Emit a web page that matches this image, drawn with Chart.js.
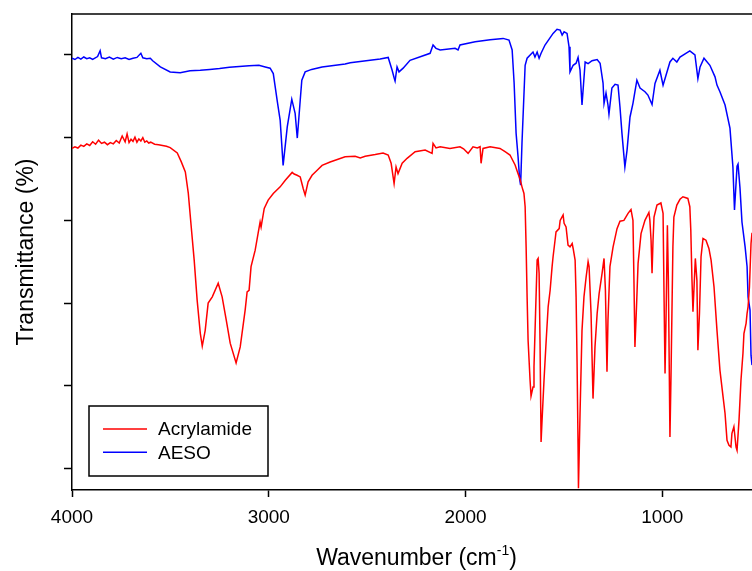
<!DOCTYPE html>
<html>
<head>
<meta charset="utf-8">
<script src="https://cdn.jsdelivr.net/npm/chart.js@4.4.1/dist/chart.umd.min.js"></script>
<style>
  html, body { margin: 0; padding: 0; background: #ffffff; }
  #wrap { width: 752px; height: 571px; position: relative; }
</style>
</head>
<body>
<div id="wrap"><canvas id="ftir"></canvas></div>
<script>
// FTIR spectra, wavenumber (cm-1) against transmittance (arbitrary offset, %)
var xTicks = [4000, 3000, 2000, 1000];
var yTicks = [0, 20, 40, 60, 80, 100];
var seriesNames = ["Acrylamide", "AESO"];
var seriesColors = ["#ff0000", "#0000ff"];

var acrylamideWn = [
  4000, 3985, 3970, 3955, 3940, 3925, 3910, 3895, 3880, 3865, 3850, 3835, 3820, 3805, 3790,
  3775, 3760, 3745, 3730, 3720, 3710, 3700, 3690, 3680, 3670, 3660, 3650, 3640, 3630, 3620,
  3610, 3600, 3580, 3560, 3540, 3520, 3501, 3465, 3445, 3424, 3409, 3394, 3379, 3364, 3348,
  3338, 3323, 3308, 3287, 3257, 3237, 3216, 3196, 3166, 3145, 3120, 3110, 3100, 3090, 3069,
  3054, 3044, 3039, 3023, 3003, 2977, 2942, 2916, 2881, 2871, 2856, 2840, 2825, 2815, 2800,
  2780, 2754, 2729, 2688, 2612, 2561, 2535, 2510, 2459, 2419, 2393, 2378, 2363, 2353, 2343,
  2322, 2297, 2256, 2205, 2170, 2165, 2150, 2129, 2079, 2028, 2010, 1987, 1962, 1940, 1926,
  1921, 1911, 1875, 1825, 1799, 1774, 1748, 1733, 1723, 1713, 1703, 1697, 1692, 1687, 1682,
  1672, 1667, 1657, 1652, 1644, 1636, 1631, 1626, 1621, 1616, 1611, 1601, 1590, 1580, 1570,
  1560, 1555, 1545, 1540, 1524, 1519, 1504, 1499, 1489, 1479, 1469, 1458, 1453, 1443, 1438,
  1433, 1428, 1426, 1418, 1408, 1398, 1387, 1377, 1372, 1362, 1352, 1342, 1331, 1321, 1306,
  1296, 1289, 1281, 1276, 1266, 1250, 1230, 1215, 1195, 1174, 1159, 1149, 1144, 1139, 1131,
  1123, 1108, 1088, 1068, 1063, 1057, 1052, 1047, 1042, 1027, 1007, 996, 991, 986, 981,
  974, 969, 961, 956, 951, 946, 941, 926, 910, 895, 870, 860, 855, 849, 844,
  837, 832, 824, 819, 811, 803, 793, 778, 763, 752, 737, 722, 707, 691, 681,
  671, 661, 651, 646, 636, 625, 620, 610, 600, 590, 585, 574, 569, 564, 557,
  549, 544
];
var acrylamideT = [
  77.4, 77.8, 77.5, 78.2, 77.9, 78.5, 78.1, 79.0, 78.4, 79.4, 78.6, 78.9, 78.3, 78.8, 78.5,
  79.3, 78.7, 80.4, 79.0, 80.9, 78.8, 79.6, 79.1, 80.1, 78.9, 79.7, 79.2, 80.0, 78.9, 79.2,
  78.7, 78.9, 78.4, 78.3, 78.1, 77.9, 77.6, 76.3, 74.2, 71.7, 66.6, 58.4, 50.4, 40.7, 32.7,
  29.6, 33.4, 40.0, 41.5, 44.8, 41.5, 35.9, 30.3, 25.5, 29.4, 38.3, 42.7, 43.1, 48.8, 52.8,
  56.9, 59.6, 58.4, 62.9, 64.9, 66.5, 68.1, 69.7, 71.6, 71.2, 70.9, 70.5, 67.7, 66.1, 69.3,
  70.9, 72.1, 73.3, 74.1, 75.4, 75.5, 75.1, 75.5, 75.9, 76.3, 75.8, 73.8, 68.9, 72.9, 71.3,
  73.8, 75.0, 76.6, 77.0, 76.2, 78.6, 77.5, 77.8, 77.4, 77.8, 77.3, 76.2, 77.8, 77.5, 77.8,
  73.8, 77.4, 77.8, 77.4, 76.6, 75.8, 73.4, 71.3, 70.0, 68.1, 66.5, 63.3, 53.6, 41.5, 31.0,
  21.4, 17.5, 19.7, 24.6, 37.6, 50.4, 50.8, 47.2, 29.4, 6.4, 11.7, 21.4, 31.0, 39.1, 43.1,
  48.8, 51.2, 55.2, 57.2, 58.0, 60.0, 61.3, 59.3, 58.4, 54.0, 53.6, 54.4, 53.2, 50.4, 41.5,
  25.4, 5.2, -4.8, 13.3, 33.4, 41.5, 46.3, 50.0, 48.8, 37.5, 16.9, 29.4, 37.5, 42.3, 47.2,
  50.8, 43.1, 23.4, 35.9, 48.8, 53.6, 58.0, 59.8, 60.0, 61.7, 62.6, 60.0, 45.5, 29.4, 39.1,
  49.6, 56.8, 60.0, 61.9, 60.0, 55.2, 47.2, 55.2, 60.8, 63.7, 64.2, 61.7, 41.5, 23.0, 35.9,
  58.8, 45.5, 7.6, 21.4, 37.5, 53.6, 60.8, 63.7, 65.1, 65.7, 65.3, 63.3, 57.6, 45.5, 37.9,
  45.5, 50.8, 45.5, 28.6, 37.5, 51.2, 55.6, 55.2, 53.2, 50.4, 43.9, 33.4, 23.8, 17.3, 13.3,
  6.8, 5.6, 5.2, 8.5, 10.1, 5.2, 4.4, 11.7, 21.4, 27.8, 32.6, 35.1, 37.5, 39.1, 43.9,
  54.4, 57.0
];

var aesoWn = [
  4000, 3985, 3970, 3955, 3940, 3925, 3910, 3895, 3870, 3857, 3850, 3830, 3810, 3790, 3770,
  3750, 3730, 3710, 3690, 3670, 3650, 3640, 3620, 3602, 3590, 3551, 3501, 3450, 3400, 3348,
  3300, 3250, 3200, 3100, 3050, 3018, 2993, 2977, 2957, 2942, 2927, 2906, 2883, 2866, 2855,
  2840, 2832, 2815, 2782, 2729, 2612, 2586, 2485, 2434, 2393, 2373, 2363, 2358, 2348, 2338,
  2317, 2282, 2180, 2165, 2150, 2129, 2053, 2038, 2028, 1951, 1875, 1809, 1779, 1763, 1753,
  1743, 1733, 1725, 1720, 1713, 1697, 1687, 1657, 1647, 1636, 1626, 1616, 1596, 1555, 1535,
  1519, 1509, 1499, 1484, 1474, 1469, 1453, 1438, 1428, 1418, 1408, 1392, 1377, 1357, 1331,
  1316, 1301, 1296, 1286, 1276, 1271, 1256, 1240, 1225, 1215, 1205, 1190, 1179, 1164, 1149,
  1139, 1129, 1113, 1088, 1073, 1052, 1037, 1012, 996, 981, 961, 946, 926, 910, 860,
  834, 819, 808, 788, 758, 732, 722, 707, 681, 656, 641, 633, 620, 615, 605,
  595, 579, 569, 564, 554, 549, 544
];
var aesoT = [
  99.2, 98.9, 99.4, 99.0, 99.5, 99.1, 99.3, 98.9, 99.6, 101.0, 99.3, 99.1, 99.5, 99.0, 99.4,
  99.1, 99.3, 98.9, 99.2, 99.4, 100.4, 99.3, 99.1, 99.2, 98.6, 97.1, 95.9, 95.7, 96.2, 96.3,
  96.5, 96.7, 97.0, 97.4, 97.5, 97.1, 96.8, 95.5, 88.9, 84.2, 73.3, 82.6, 89.3, 85.9, 79.9,
  89.1, 93.9, 95.9, 96.5, 97.1, 97.8, 98.1, 98.7, 99.0, 99.4, 96.3, 94.5, 93.7, 97.1, 95.9,
  96.8, 98.7, 100.4, 102.4, 101.6, 101.2, 101.6, 101.2, 102.4, 103.2, 103.7, 104.0, 103.6, 101.2, 93.2,
  81.1, 75.4, 70.0, 68.5, 78.7, 97.5, 99.2, 100.7, 99.5, 100.7, 99.2, 100.4, 102.4, 105.2, 106.2,
  106.0, 104.8, 105.6, 105.2, 102.0, 95.9, 97.5, 98.0, 99.4, 96.3, 87.9, 98.3, 97.9, 98.6, 98.9,
  98.0, 93.2, 88.3, 90.8, 87.9, 85.7, 92.0, 92.9, 92.7, 87.4, 81.1, 72.9, 77.0, 85.0, 88.3,
  91.1, 93.9, 92.0, 91.1, 90.3, 88.0, 93.1, 96.3, 92.7, 95.1, 98.3, 99.2, 98.3, 99.5, 101.0,
  100.0, 94.3, 97.1, 99.2, 97.5, 94.7, 92.7, 91.1, 87.9, 82.3, 72.9, 62.5, 73.1, 73.6, 67.8,
  59.6, 53.6, 48.8, 41.5, 38.3, 27.4, 25.0
];

function toPoints(wn, t) {
  return wn.map(function(w, i) {
    return { x: w, y: t[i] };
  });
}

// frame line along the top of the plot area
var topFrame = {
  id: "topFrame",
  afterDraw: function(chart) {
    var ctx = chart.ctx;
    var a = chart.chartArea;
    ctx.save();
    ctx.strokeStyle = "#000000";
    ctx.lineWidth = 1.5;
    ctx.beginPath();
    ctx.moveTo(a.left, a.top);
    ctx.lineTo(a.right, a.top);
    ctx.stroke();
    ctx.restore();
  }
};

// axis titles: x title needs a superscript, y title is rotated
var axisTitles = {
  id: "axisTitles",
  afterDraw: function(chart) {
    var ctx = chart.ctx;
    var a = chart.chartArea;
    ctx.save();
    ctx.fillStyle = "#000000";
    ctx.textBaseline = "alphabetic";

    var big = "23px 'Liberation Sans', Arial, sans-serif";
    var small = "14px 'Liberation Sans', Arial, sans-serif";
    var part1 = "Wavenumber (cm";
    var sup = "-1";
    var part2 = ")";
    ctx.font = big;
    var w1 = ctx.measureText(part1).width;
    var w3 = ctx.measureText(part2).width;
    ctx.font = small;
    var w2 = ctx.measureText(sup).width;
    var total = w1 + w2 + w3;
    var x0 = 416.5 - total / 2;
    var base = 565;
    ctx.font = big;
    ctx.textAlign = "left";
    ctx.fillText(part1, x0, base);
    ctx.font = small;
    ctx.fillText(sup, x0 + w1, base - 10);
    ctx.font = big;
    ctx.fillText(part2, x0 + w1 + w2, base);

    ctx.translate(32.5, (a.top + a.bottom) / 2);
    ctx.rotate(-Math.PI / 2);
    ctx.textAlign = "center";
    ctx.font = big;
    ctx.fillText("Transmittance (%)", 0, 0);
    ctx.restore();
  }
};

// boxed legend in the lower left corner of the plot
var boxLegend = {
  id: "boxLegend",
  afterDraw: function(chart) {
    var ctx = chart.ctx;
    ctx.save();
    ctx.strokeStyle = "#000000";
    ctx.lineWidth = 1.5;
    ctx.fillStyle = "#ffffff";
    ctx.fillRect(89, 406, 179, 70);
    ctx.strokeRect(89, 406, 179, 70);
    ctx.font = "19px 'Liberation Sans', Arial, sans-serif";
    ctx.textBaseline = "middle";
    ctx.textAlign = "left";
    chart.data.datasets.forEach(function(ds, i) {
      var y = 429 + i * 23.3;
      ctx.strokeStyle = ds.borderColor;
      ctx.lineWidth = 1.5;
      ctx.beginPath();
      ctx.moveTo(103, y);
      ctx.lineTo(147, y);
      ctx.stroke();
      ctx.fillStyle = "#000000";
      ctx.fillText(ds.label, 158, y + 1);
    });
    ctx.restore();
  }
};

var data = {
  datasets: [{
    label: seriesNames[0],
    borderColor: seriesColors[0],
    data: toPoints(acrylamideWn, acrylamideT)
  }, {
    label: seriesNames[1],
    borderColor: seriesColors[1],
    data: toPoints(aesoWn, aesoT)
  }]
};

var config = {
  type: "line",
  data: data,
  options: {
    responsive: true,
    maintainAspectRatio: false,
    animation: false,
    layout: { padding: { top: 14, right: 0, left: 0, bottom: 0 } },
    elements: {
      point: { radius: 0 },
      line: { borderWidth: 1.5, tension: 0, fill: false }
    },
    plugins: {
      legend: { display: false },
      tooltip: { enabled: false }
    },
    scales: {
      x: {
        type: "linear",
        reverse: true,
        min: 544,
        max: 4000,
        afterBuildTicks: function(scale) {
          scale.ticks = xTicks.map(function(v) { return { value: v }; });
        },
        afterFit: function(scale) {
          scale.height = 81;
        },
        grid: {
          drawOnChartArea: false,
          drawTicks: true,
          tickLength: 7,
          tickWidth: 1.5,
          tickColor: "#000000"
        },
        border: { display: true, color: "#000000", width: 1.5 },
        ticks: {
          color: "#000000",
          padding: 9,
          maxRotation: 0,
          autoSkip: false,
          font: { family: "'Liberation Sans', Arial, sans-serif", size: 19 },
          callback: function(value) { return String(value); }
        }
      },
      y: {
        min: -5.2,
        max: 109.9,
        afterBuildTicks: function(scale) {
          scale.ticks = yTicks.map(function(v) { return { value: v }; });
        },
        afterFit: function(scale) {
          scale.width = 72;
        },
        grid: {
          drawOnChartArea: false,
          drawTicks: true,
          tickLength: 8,
          tickWidth: 1.5,
          tickColor: "#000000"
        },
        border: { display: true, color: "#000000", width: 1.5 },
        ticks: {
          callback: function() { return ""; }
        }
      }
    }
  },
  plugins: [topFrame, axisTitles, boxLegend]
};

new Chart(document.getElementById("ftir").getContext("2d"), config);
</script>
</body>
</html>
